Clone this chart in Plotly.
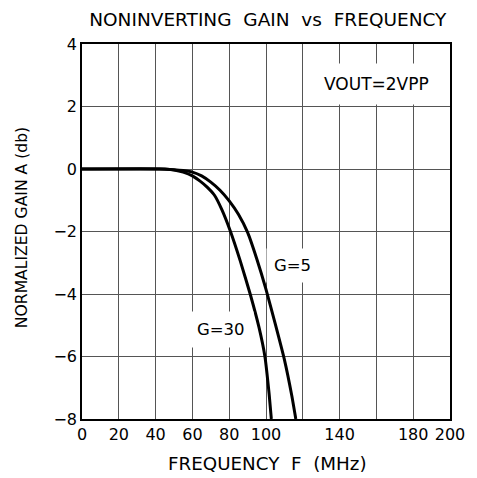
import plotly.graph_objects as go

# Data
freq_g5 = [0, 40, 45, 50, 55, 60, 65, 70, 75, 80, 85, 90, 95, 100, 105, 110, 114, 116.2]
gain_g5 = [0, 0, -0.005, -0.02, -0.05, -0.1, -0.22, -0.42, -0.68, -1.02, -1.45, -2.03, -2.88, -3.85, -4.95, -6.1, -7.25, -8.0]

freq_g30 = [0, 45, 50, 55, 60, 64, 68, 72, 76, 80.7, 86, 91.4, 96.2, 99.4, 101.7, 102.9]
gain_g30 = [0, 0, -0.03, -0.1, -0.22, -0.38, -0.58, -0.84, -1.3, -2.0, -2.94, -4.0, -5.07, -6.0, -7.2, -8.0]

x_tickvals = [0, 20, 40, 60, 80, 100, 120, 140, 160, 180, 200]
x_ticktext = ["0", "20", "40", "60", "80", "100", "", "140", "", "180", "200"]
y_tickvals = [-8, -6, -4, -2, 0, 2, 4]

FONT = "DejaVu Sans"

fig = go.Figure()
fig.add_trace(go.Scatter(x=freq_g5, y=gain_g5, mode="lines",
                         line=dict(color="black", width=3, shape="spline", smoothing=0.5),
                         showlegend=False, hoverinfo="skip"))
fig.add_trace(go.Scatter(x=freq_g30, y=gain_g30, mode="lines",
                         line=dict(color="black", width=3, shape="spline", smoothing=0.5),
                         showlegend=False, hoverinfo="skip"))

fig.update_layout(
    width=469, height=470,
    margin=dict(l=74, r=20, t=36, b=59),
    paper_bgcolor="white", plot_bgcolor="white",
    font=dict(family=FONT, color="black", size=15),
    title=dict(text="NONINVERTING  GAIN  vs  FREQUENCY", x=0.554, xanchor="center",
               xref="container", yref="container", y=0.99, yanchor="top",
               pad=dict(t=0, b=0), font=dict(family=FONT, size=18.5, color="black")),
)
fig.update_xaxes(range=[0, 200], tickvals=x_tickvals, ticktext=x_ticktext,
                 showgrid=True, gridcolor="#555", gridwidth=1,
                 showline=True, linecolor="black", linewidth=1.5, mirror=True,
                 zeroline=False, ticks="", tickfont=dict(size=16))
fig.update_yaxes(range=[-8, 4], tickvals=y_tickvals,
                 showgrid=True, gridcolor="#555", gridwidth=1,
                 showline=True, linecolor="black", linewidth=1.5, mirror=True,
                 zeroline=False, ticks="", tickfont=dict(size=16))

# axis titles as annotations for precise placement
fig.add_annotation(xref="paper", yref="paper", x=0.504, y=0, yshift=-44,
                   xanchor="center", yanchor="middle", showarrow=False,
                   text="FREQUENCY  F  (MHz)", font=dict(size=18.3))
fig.add_annotation(xref="paper", yref="paper", x=0, xshift=-60, y=0.509,
                   xanchor="center", yanchor="middle", showarrow=False, textangle=-90,
                   text="NORMALIZED GAIN A (db)", font=dict(size=15.6))

fig.add_annotation(x=160, y=2.72, text="VOUT=2VPP", showarrow=False,
                   bgcolor="white", borderpad=10, font=dict(size=17))
fig.add_annotation(x=114.5, y=-3.08, text="G=5", showarrow=False,
                   bgcolor="white", borderpad=7, font=dict(size=16.5))
fig.add_annotation(x=75.4, y=-5.13, text="G=30", showarrow=False,
                   bgcolor="white", borderpad=8, font=dict(size=16.5))

fig.write_html("out.html")
